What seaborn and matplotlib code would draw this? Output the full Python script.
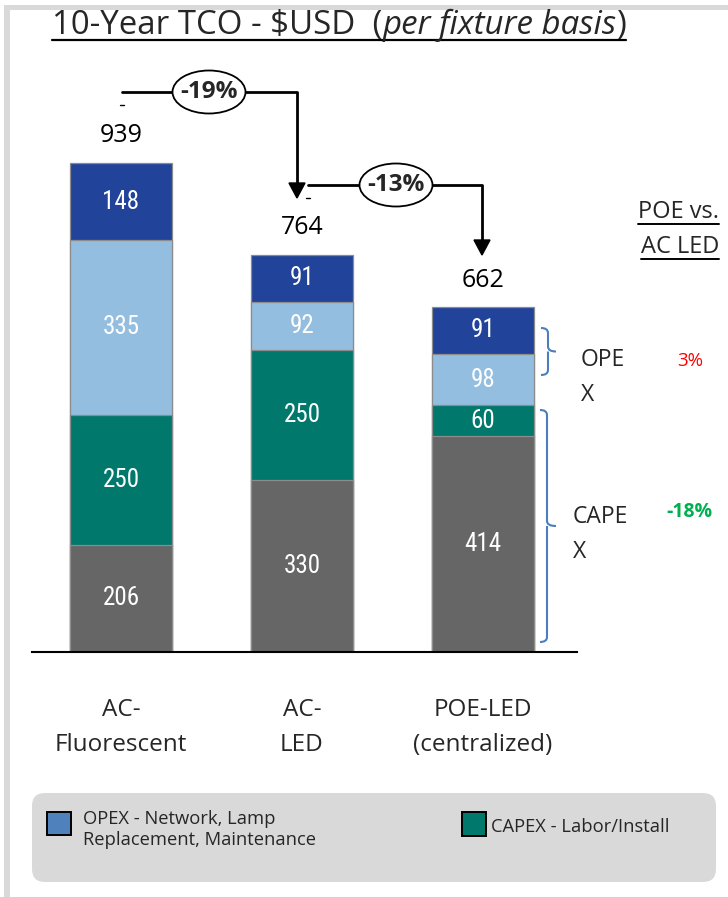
import matplotlib
matplotlib.use("Agg")
import matplotlib.pyplot as plt
import seaborn as sns
import pandas as pd
from matplotlib import font_manager
from matplotlib.patches import Ellipse, Polygon, FancyBboxPatch, Rectangle, PathPatch
from matplotlib.path import Path
from matplotlib.lines import Line2D

# ---- data -------------------------------------------------------------
categories = ["AC-\nFluorescent", "AC-\nLED", "POE-LED\n(centralized)"]
capex_equipment = [206, 330, 414]
capex_labor = [250, 250, 60]
opex_energy = [335, 92, 98]
opex_network = [148, 91, 91]
totals = [939, 764, 662]
step_changes = ["-19%", "-13%"]
poe_vs_ac = {"OPE\nX": "3%", "CAPE\nX": "-18%"}

colors = {
    "capex_equipment": "#666666",
    "capex_labor": "#00786C",
    "opex_energy": "#93BEDF",
    "opex_network": "#21449A",
}

# ---- fonts ------------------------------------------------------------
available = {f.name for f in font_manager.fontManager.ttflist}
MAIN = "Open Sans" if "Open Sans" in available else "DejaVu Sans"
if "Liberation Sans Narrow" in available:
    NARROW, NARROW_SIZE = "Liberation Sans Narrow", 18.5
elif "Roboto Condensed" in available:
    NARROW, NARROW_SIZE = "Roboto Condensed", 18
else:
    NARROW, NARROW_SIZE = "Roboto", 16

sns.set_theme(style="white")
plt.rcParams["font.family"] = [MAIN, "DejaVu Sans"]

W, H = 728, 897
fig = plt.figure(figsize=(W / 100, H / 100), dpi=100)
T = fig.dpi_scale_trans


def P(x, y):
    """pixel position (top-left origin) -> inches for dpi_scale_trans"""
    return (x / 100, (H - y) / 100)


# ---- stacked bars -----------------------------------------------------
ax_left, ax_right, ax_top, ax_bot = 32, 577, 131, 652
ax = fig.add_axes([ax_left / W, (H - ax_bot) / H,
                   (ax_right - ax_left) / W, (ax_bot - ax_top) / H])

layers = [
    ("capex_equipment", capex_equipment),
    ("capex_labor", capex_labor),
    ("opex_energy", opex_energy),
    ("opex_network", opex_network),
]
rows = []
running = [0, 0, 0]
for name, vals in layers:
    for i, v in enumerate(vals):
        rows.append({"category": categories[i], "layer": name,
                     "value": v, "bottom": running[i], "top": running[i] + v})
        running[i] += v
df = pd.DataFrame(rows)

bar_width = 0.5635
# draw cumulative heights from tallest to shortest so each layer sits on the one below
for name, _ in reversed(layers):
    sub = df[df["layer"] == name]
    sns.barplot(data=sub, x="category", y="top", order=categories,
                color=colors[name], saturation=1, width=bar_width,
                edgecolor="#8C8C8C", linewidth=0.9, ax=ax, errorbar=None)

for _, r in df.iterrows():
    i = categories.index(r["category"])
    ax.text(i, r["bottom"] + r["value"] / 2, f"{r['value']:d}",
            ha="center", va="center", color="white", fontsize=NARROW_SIZE,
            family=[NARROW, "DejaVu Sans"])

for i, t in enumerate(totals):
    ax.annotate(f"{t}", (i, t), xytext=(0, 19.5), textcoords="offset points",
                ha="center", va="center", fontsize=18, color="black")

ax.set_xlim((ax_left - 121) / 181, (ax_right - 121) / 181)
ax.set_ylim(0, (ax_bot - ax_top) / 0.5208)
for s in ["top", "right", "left"]:
    ax.spines[s].set_visible(False)
ax.spines["bottom"].set_color("black")
ax.spines["bottom"].set_linewidth(1.5)
ax.set_yticks([])
ax.set_xlabel("")
ax.set_ylabel("")
ax.set_xticks(range(len(categories)))
ax.set_xticklabels(categories, fontsize=17.5, linespacing=1.6)
ax.tick_params(axis="x", length=0, pad=33)
ax.patch.set_alpha(0)

# ---- outer frame ------------------------------------------------------
fig.add_artist(Rectangle(P(4, H), 6 / 100, (H - 5) / 100, transform=T,
                         fc="#D9D9D9", ec="none", zorder=0))
fig.add_artist(Rectangle(P(4, 10), (W - 4) / 100, 5 / 100, transform=T,
                         fc="#D9D9D9", ec="none", zorder=0))

# ---- title with underline ---------------------------------------------
fig.canvas.draw()
renderer = fig.canvas.get_renderer()


def run_text(x, y, parts, size, **kw):
    """place consecutive text pieces on one baseline, return (x0, x1)"""
    x_cur = x
    x0 = None
    for s, style in parts:
        t = fig.text(*P(x_cur, y), s, transform=T, fontsize=size, style=style,
                     va="baseline", ha="left", parse_math=False, **kw)
        bb = t.get_window_extent(renderer)
        if x0 is None:
            x0 = bb.x0
        x_cur = bb.x1
    return x0, x_cur


x0, x1 = run_text(52, 34, [("10-Year TCO - $USD  (", "normal"),
                           ("per fixture basis", "italic"),
                           (")", "normal")], 23.8)
fig.add_artist(Line2D([x0 / 100, x1 / 100], [(H - 39.5) / 100] * 2,
                      transform=T, color="black", lw=1.6))

# ---- step-change arrows -----------------------------------------------
def step_arrow(x_start, x_turn, y_line, y_tip, label, cx):
    fig.add_artist(Line2D([x_start / 100, x_turn / 100, x_turn / 100],
                          [(H - y_line) / 100, (H - y_line) / 100, (H - y_tip + 14) / 100],
                          transform=T, color="black", lw=2.0, zorder=5))
    fig.add_artist(Polygon([P(x_turn - 8, y_tip - 15), P(x_turn + 8, y_tip - 15),
                            P(x_turn, y_tip)], closed=True, transform=T,
                           fc="black", ec="black", zorder=5))
    fig.add_artist(Ellipse(P(cx, y_line), 0.73, 0.43, transform=T,
                           fc="white", ec="black", lw=1.3, zorder=6))
    fig.text(*P(cx, y_line), label, transform=T, ha="center", va="center",
             fontsize=17.5, fontweight="bold", zorder=7)
    fig.add_artist(Line2D([(x_start - 2) / 100, (x_start + 2) / 100],
                          [(H - y_line - 13) / 100] * 2, transform=T,
                          color="black", lw=1.0))


step_arrow(122, 297, 92, 198, step_changes[0], 209)
step_arrow(308, 482, 185, 255, step_changes[1], 396)

# ---- braces and comparison --------------------------------------------
def brace(x_end, x_v, x_tip, y_top, y_bot):
    y_mid = (y_top + y_bot) / 2
    r = 5
    verts = [P(x_end, y_top), P(x_v, y_top), P(x_v, y_top + r),
             P(x_v, y_mid - r), P(x_v, y_mid), P(x_tip, y_mid),
             P(x_v, y_mid), P(x_v, y_mid + r),
             P(x_v, y_bot - r), P(x_v, y_bot), P(x_end, y_bot)]
    codes = [Path.MOVETO, Path.CURVE3, Path.CURVE3,
             Path.LINETO, Path.CURVE3, Path.CURVE3,
             Path.MOVETO, Path.CURVE3,
             Path.LINETO, Path.CURVE3, Path.CURVE3]
    fig.add_artist(PathPatch(Path(verts, codes), transform=T, fc="none",
                             ec="#4A7EBF", lw=1.5))


brace(541, 548, 556, 328, 375)
brace(540, 547, 556, 410, 642)

# multi-line labels: y is the baseline of the last line
(opex_lbl, opex_pct), (capex_lbl, capex_pct) = poe_vs_ac.items()
fig.text(*P(581, 401), opex_lbl, transform=T, ha="left", va="baseline",
         fontsize=16.5, linespacing=1.6)
fig.text(*P(573, 558), capex_lbl, transform=T, ha="left", va="baseline",
         fontsize=16.5, linespacing=1.6)
fig.text(*P(690, 366), opex_pct, transform=T, ha="center", va="baseline",
         fontsize=13.5, color="#FF0000")
fig.text(*P(689.5, 517), capex_pct, transform=T, ha="center", va="baseline",
         fontsize=14, color="#00B050", fontweight="bold")

for s, y in [("POE vs.", 218), ("AC LED", 253)]:
    t = fig.text(*P(719, y), s, transform=T, ha="right", va="baseline", fontsize=17)
    bb = t.get_window_extent(renderer)
    fig.add_artist(Line2D([bb.x0 / 100, bb.x1 / 100], [(H - y - 5.5) / 100] * 2,
                          transform=T, color="black", lw=1.4))

# ---- legend -----------------------------------------------------------
fig.add_artist(FancyBboxPatch(P(32, 882), 6.84, 0.89, transform=T,
                              boxstyle="round,pad=0,rounding_size=0.13",
                              fc="#D9D9D9", ec="none", zorder=1))
fig.add_artist(Rectangle(P(47, 835), 0.24, 0.23, transform=T,
                         fc="#4F81BD", ec="black", lw=1.4, zorder=2))
fig.text(*P(83, 845), "OPEX - Network, Lamp\nReplacement, Maintenance",
         transform=T, ha="left", va="baseline", fontsize=13.2, linespacing=1.25,
         zorder=3)
fig.add_artist(Rectangle(P(462, 836), 0.24, 0.24, transform=T,
                         fc=colors["capex_labor"], ec="black", lw=1.4, zorder=2))
fig.text(*P(491, 832), "CAPEX - Labor/Install", transform=T, ha="left",
         va="baseline", fontsize=13.2, zorder=3)

fig.savefig("out.png", dpi=100, facecolor="white")
